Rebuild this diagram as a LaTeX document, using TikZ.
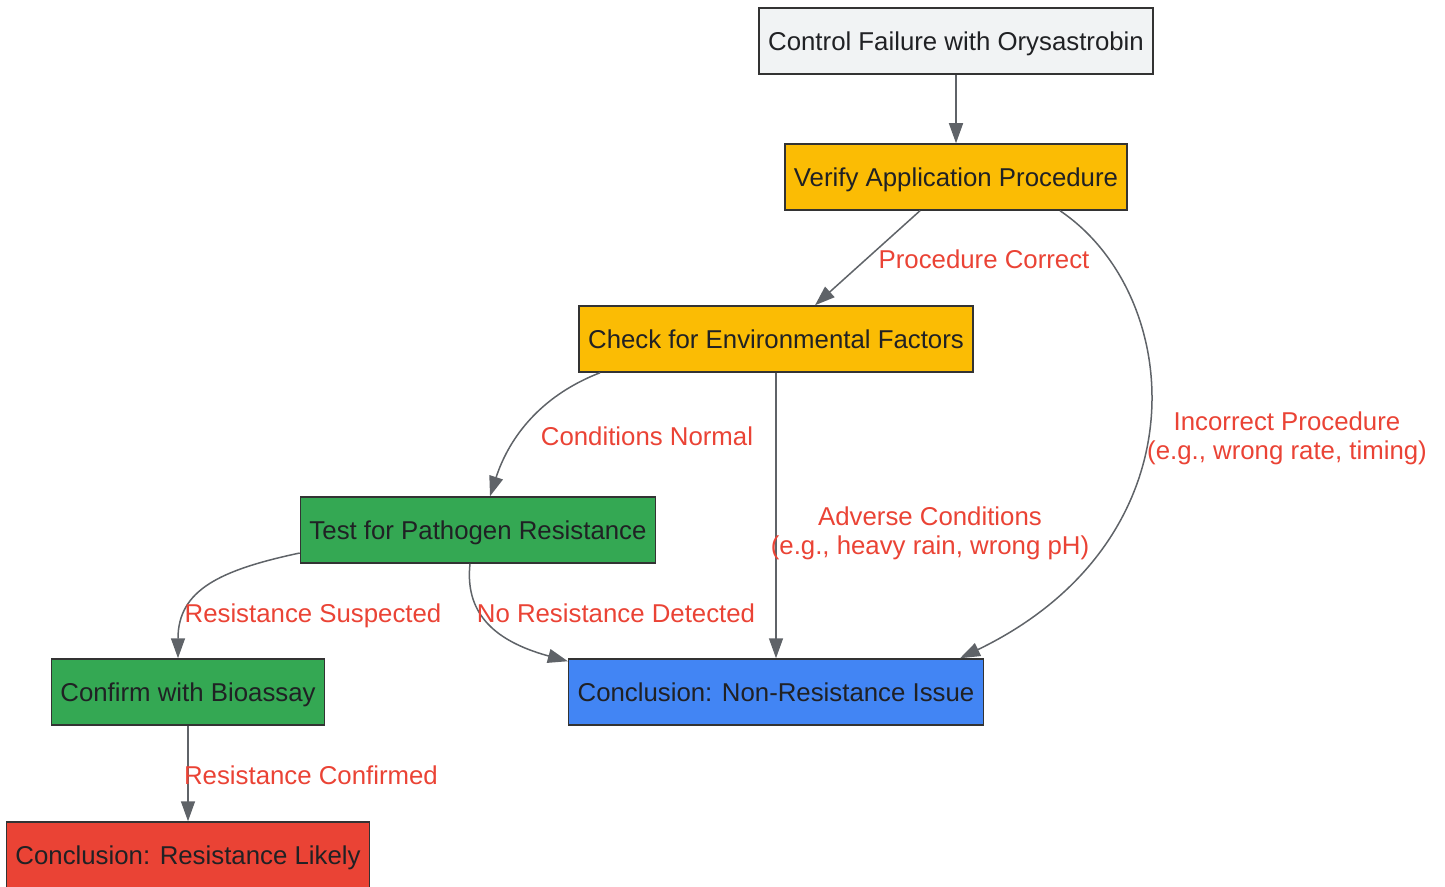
\documentclass[tikz,border=0pt]{standalone}
\usepackage{fontspec}
\setmainfont{Liberation Sans}
\usetikzlibrary{arrows.meta}
\definecolor{boxgray}{HTML}{F1F3F4}
\definecolor{boxyellow}{HTML}{FBBC04}
\definecolor{boxgreen}{HTML}{34A853}
\definecolor{boxblue}{HTML}{4285F4}
\definecolor{boxred}{HTML}{EA4335}
\definecolor{boxline}{HTML}{333333}
\definecolor{ink}{HTML}{202124}
\definecolor{edgegray}{HTML}{5F6368}
\definecolor{lblred}{HTML}{EA4335}

\begin{document}
\begin{tikzpicture}[x=0.5pt,y=-0.5pt,
    box/.style={draw=boxline, line width=0.75pt, text=ink, minimum height=33pt,
        inner xsep=4.5pt, text depth=0pt, font=\fontsize{12.9}{14.5}\selectfont},
    arr/.style={draw=edgegray, line width=0.75pt, -{Triangle[length=10pt,width=7pt]}},
    lbl/.style={text=lblred, align=center, inner sep=0pt, text depth=0pt,
        font=\fontsize{12.9}{14.5}\selectfont}]
    \useasboundingbox (0,0) rectangle (1445,887);

    \node[box, fill=boxgray] (fail) at (956,41) {Control Failure with Orysastrobin};
    \node[box, fill=boxyellow] (verify) at (956,177) {Verify Application Procedure};
    \node[box, fill=boxyellow] (env) at (776,339) {Check for Environmental Factors};
    \node[box, fill=boxgreen] (test) at (478,530) {Test for Pathogen Resistance};
    \node[box, fill=boxgreen] (bio) at (188,692) {Confirm with Bioassay};
    \node[box, fill=boxred] (resist) at (188,855) {Conclusion: Resistance Likely};
    \node[box, fill=boxblue] (nonres) at (776,692) {Conclusion: Non-Resistance Issue};

    \draw[arr] (fail) -- (verify);
    \draw[arr] ([xshift=-18pt]verify.south) -- ([xshift=19.5pt]env.north);
    \draw[arr] ([xshift=52pt]verify.south) .. controls (1185,295) and (1205,540) .. ([xshift=92pt]nonres.north);
    \draw[arr] ([xshift=-88pt]env.south) .. controls (530,400) and (505,450) .. ([xshift=6pt]test.north);
    \draw[arr] (env) -- (nonres);
    \draw[arr] ([yshift=-11.5pt]test.west) .. controls (220,570) and (178,590) .. ([xshift=-5pt]bio.north);
    \draw[arr] ([xshift=-4pt]test.south) .. controls (465,610) and (490,640) .. ([yshift=-1.5pt]nonres.north west);
    \draw[arr] (bio) -- (resist);

    \node[lbl] (l1) at (984,259) {Procedure Correct};
    \node[lbl] (l2) at (1287,436) {Incorrect Procedure\\(e.g., wrong rate, timing)};
    \node[lbl] (l3) at (647,436) {Conditions Normal};
    \node[lbl] (l4) at (930,531) {Adverse Conditions\\(e.g., heavy rain, wrong pH)};
    \node[lbl] (l5) at (313,613) {Resistance Suspected};
    \node[lbl] (l6) at (616,613) {No Resistance Detected};
    \node[lbl] (l7) at (311,775) {Resistance Confirmed};
\end{tikzpicture}
\end{document}
